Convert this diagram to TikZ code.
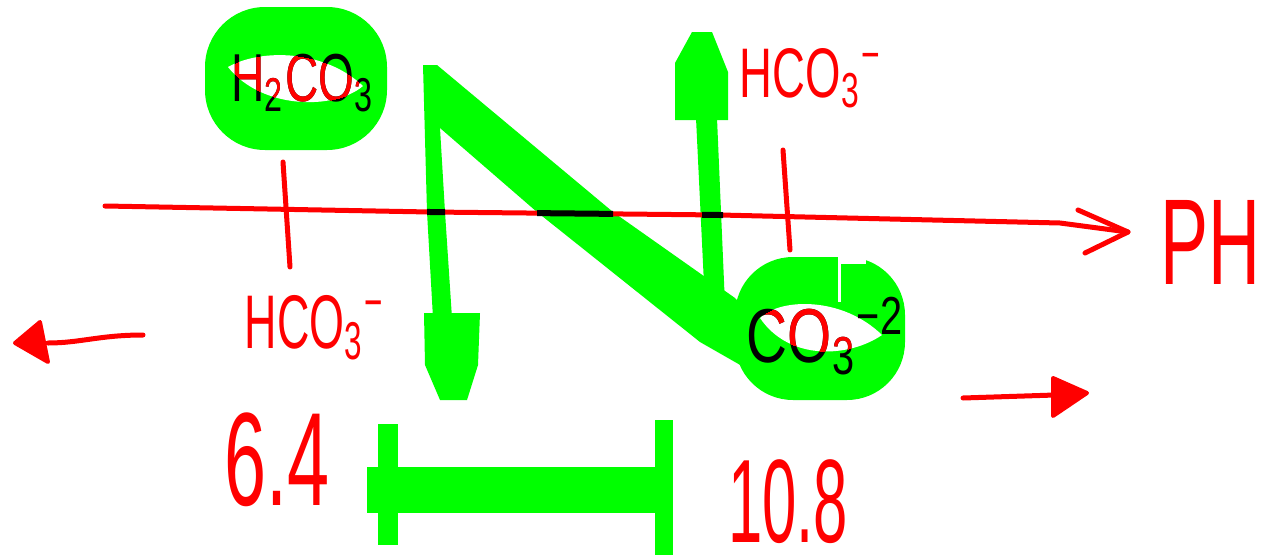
\documentclass[tikz,border=0pt]{standalone}
\usepackage{fontspec}
\setmainfont{Liberation Sans}
\usepackage{graphicx}
\definecolor{hgreen}{RGB}{0,255,0}
\definecolor{hred}{RGB}{255,0,0}
\newcommand\fitbox[3]{\resizebox*{#1pt}{#2pt}{#3}}
\begin{document}
\begin{tikzpicture}[x=1pt,y=-1pt,
  pen/.style={draw=hred,line width=5pt,line cap=round,line join=round},
  ink/.style={draw=black,line width=6pt},
  marker/.style={fill=hgreen},
  hole/.style={fill=white},
  lbl/.style={inner sep=0pt,outer sep=0pt,text=hred},
  blk/.style={inner sep=0pt,outer sep=0pt,text=black}]
\useasboundingbox[fill=white] (0,0) rectangle (1269,557);

% named points
\coordinate (ax0) at (105,206);
\coordinate (axa) at (430,212);
\coordinate (axb) at (720,215);
\coordinate (axc) at (1060,223);
\coordinate (ax1) at (1128,232);
\coordinate (t1a) at (283,162);
\coordinate (t1b) at (290,267);
\coordinate (t2a) at (783,150);
\coordinate (t2b) at (790,250);
\coordinate (la0) at (143,335);
\coordinate (la1) at (48,343);
\coordinate (ra0) at (963,398);
\coordinate (ra1) at (1055,395);

% ---------- green marker strokes ----------
% ring round H2CO3
\fill[marker,rounded corners=60pt] (205,7) rectangle (387,150);
% diagonal of the N
\fill[marker] (423,65) -- (437,65) -- (613,212) -- (735,298) -- (765,330)
  -- (742,366) -- (700,342) -- (537,212) -- (440,128) -- cycle;
% shaft down
\fill[marker] (423,65) -- (437,65) -- (440,128) -- (445,212) -- (452,318)
  -- (433,318) -- (427,212) -- cycle;
% arrowhead down
\fill[marker] (424,313) -- (480,313) -- (478,365) -- (467,400) -- (440,400)
  -- (425,365) -- cycle;
% shaft up
\fill[marker] (696,118) -- (717,118) -- (725,305) -- (705,305) -- cycle;
% arrowhead up
\fill[marker] (692,32) -- (712,32) -- (728,72) -- (728,120) -- (675,120)
  -- (675,63) -- cycle;
% ring round CO3
\fill[marker,rounded corners=58pt] (735,257) rectangle (905,400);
\fill[white] (838,250) rectangle (841,302);
\fill[white] (841,250) rectangle (866,264);
% bar with end caps
\fill[marker] (367,467) rectangle (657,513);
\fill[marker] (378,424) rectangle (398,545);
\fill[marker] (655,420) rectangle (673,555);

% holes of the rings
\fill[hole] (228,67) .. controls (262,48) and (325,50) .. (363,86)
  .. controls (335,110) and (262,110) .. (228,67) -- cycle;
\fill[hole] (760,318) .. controls (780,298) and (842,296) .. (882,335)
  .. controls (850,357) and (790,362) .. (760,318) -- cycle;

% ---------- red pH axis ----------
\draw[pen] (ax0) -- (axa) -- (axb) -- (axc) -- (ax1);
\draw[pen] (1078,210) -- (ax1) -- (1085,253);
\begin{scope}
  \clip (427,150) rectangle (445,260) (537,150) rectangle (613,260)
        (702,150) rectangle (723,260);
  \draw[ink] (ax0) -- (axa) -- (axb) -- (axc) -- (ax1);
\end{scope}
% ticks
\draw[pen] (t1a) -- (t1b);
\draw[pen] (t2a) -- (t2b);

% left and right arrows
\draw[pen] (la0) .. controls (100,335) and (80,343) .. (la1);
\fill[hred,draw=hred,line width=4pt,line join=round] (15,343) -- (40,322) -- (48,362) -- cycle;
\draw[pen] (ra0) -- (ra1);
\fill[hred,draw=hred,line width=4pt,line join=round] (1087,393) -- (1053,378) -- (1053,416) -- cycle;

% ---------- labels ----------
\node[blk] (h2co3) at (303,83) {\fitbox{143}{58}{H\textsubscript{2}CO\textsubscript{3}}};
\begin{scope}
  \clip (228,67) .. controls (262,48) and (325,50) .. (363,86)
    .. controls (335,110) and (262,110) .. (228,67) -- cycle;
  \node[lbl] (h2co3r) at (303,83) {\fitbox{143}{58}{H\textsubscript{2}CO\textsubscript{3}}};
\end{scope}

\node[blk] (co3) at (826,336) {\fitbox{158}{77}{CO\textsubscript{3}\textsuperscript{−2}}};
\begin{scope}
  \clip (760,318) .. controls (780,298) and (842,296) .. (882,335)
    .. controls (850,357) and (790,362) .. (760,318) -- cycle;
  \node[lbl] (co3r) at (826,336) {\fitbox{158}{77}{CO\textsubscript{3}\textsuperscript{−2}}};
\end{scope}

\node[lbl] (hco3a) at (315,328) {\fitbox{140}{65}{HCO\textsubscript{3}\textsuperscript{−}}};
\node[lbl] (hco3b) at (811,78) {\fitbox{142}{60}{HCO\textsubscript{3}\textsuperscript{−}}};
\node[lbl] (ph) at (1210,242) {\fitbox{100}{84}{PH}};
\node[lbl] (v64) at (277,460) {\fitbox{105}{94}{6.4}};
\node[lbl] (v108) at (788,502) {\fitbox{120}{84}{10.8}};
\end{tikzpicture}
\end{document}
